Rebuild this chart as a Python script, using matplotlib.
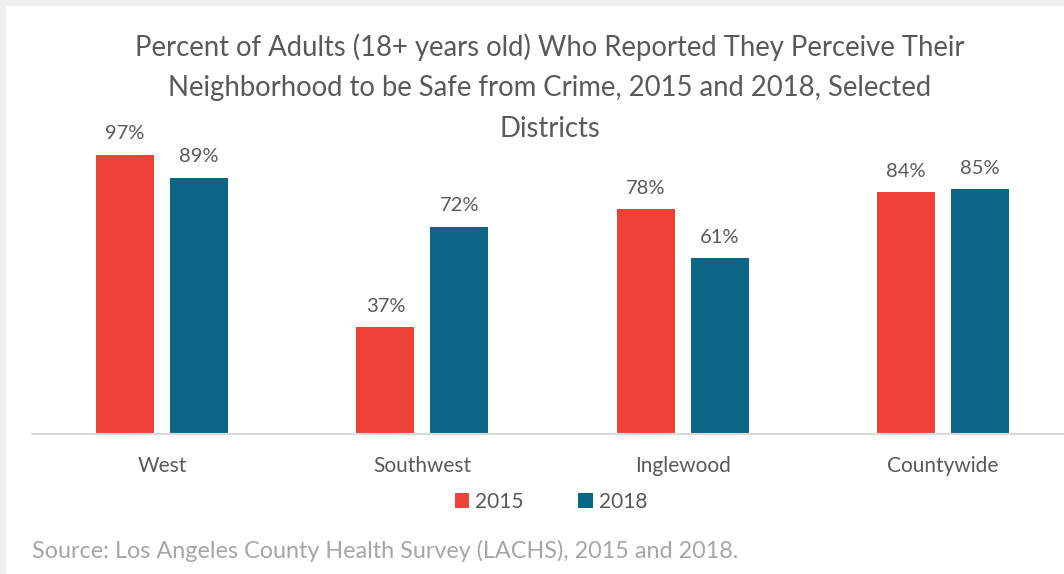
import numpy as np
import matplotlib.pyplot as plt
from matplotlib.patches import Rectangle

plt.rcParams['font.family'] = ['Lato', 'DejaVu Sans']

districts = ['West', 'Southwest', 'Inglewood', 'Countywide']
years = ['2015', '2018']
vals_2015 = [97, 37, 78, 84]
vals_2018 = [89, 72, 61, 85]
colors = ['#EE4238', '#0B6686']
title_lines = ['Percent of Adults (18+ years old) Who Reported They Perceive Their',
               'Neighborhood to be Safe from Crime, 2015 and 2018, Selected',
               'Districts']

W, H = 1064, 574
fig = plt.figure(figsize=(W / 100, H / 100), dpi=100)
fig.patch.set_facecolor('white')

# thin grey frame strips at the top and left
fig.patches.append(Rectangle((0, 1 - 5 / H), 1, 5 / H, transform=fig.transFigure,
                             color='#f0f0f0', zorder=0))
fig.patches.append(Rectangle((0, 0), 5 / W, 1, transform=fig.transFigure,
                             color='#f0f0f0', zorder=0))

ax = fig.add_axes([32 / W, (H - 434) / H, (W - 32) / W, 288 / H])
x = np.arange(len(districts))
bw = 0.223
off = 0.142
b1 = ax.bar(x - off, vals_2015, bw, color=colors[0], label=years[0])
b2 = ax.bar(x + off, vals_2018, bw, color=colors[1], label=years[1])

for bars in (b1, b2):
    for rect in bars:
        h = rect.get_height()
        ax.annotate(f'{h:.0f}%', (rect.get_x() + rect.get_width() / 2, h),
                    xytext=(0, 9), textcoords='offset points',
                    ha='center', va='bottom', fontsize=14.5, color='#595959')

ax.set_xlim(-0.5, 3.5 - 9 / 260.5)
ax.set_ylim(0, 100)
ax.set_yticks([])
ax.set_xticks(x)
ax.set_xticklabels(districts, fontsize=15, color='#595959')
ax.tick_params(axis='x', length=0, pad=16)
for s in ['top', 'right', 'left']:
    ax.spines[s].set_visible(False)
ax.spines['bottom'].set_color('#d9d9d9')
ax.spines['bottom'].set_linewidth(1.5)
ax.patch.set_alpha(0)

# title, one text per line
for i, line in enumerate(title_lines):
    fig.text(550 / W, 1 - (47 + 41 * i) / H, line, ha='center', va='center',
             fontsize=19.8, color='#595959')

fig.legend(handles=[b1, b2], labels=years, loc='center', ncol=2,
           bbox_to_anchor=(551 / W, 1 - 502 / H), frameon=False,
           fontsize=15, labelcolor='#595959', handlelength=0.7,
           handleheight=0.7, handletextpad=0.3, columnspacing=2.6)

fig.text(32 / W, 1 - 551 / H,
         'Source: Los Angeles County Health Survey (LACHS), 2015 and 2018.',
         ha='left', va='center', fontsize=16.8, color='#a6a6a6')

fig.savefig('out.png', dpi=100)
